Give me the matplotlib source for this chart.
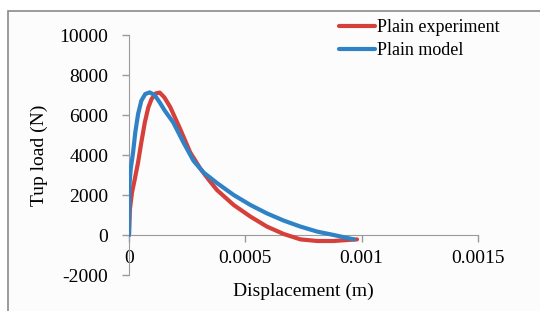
import matplotlib.pyplot as plt
from matplotlib.patches import Rectangle

# data
exp_x = [0, 0.000004, 0.000013, 0.000025, 0.000039, 0.000053, 0.000068, 0.000083,
         0.000097, 0.000115, 0.000132, 0.000152, 0.000177, 0.00022, 0.000263,
         0.000306, 0.00034, 0.000378, 0.00045, 0.000522, 0.000593, 0.000665,
         0.000737, 0.000809, 0.00088, 0.000938, 0.00098]
exp_y = [0, 1300, 2130, 2800, 3630, 4630, 5630, 6380,
         6800, 7080, 7120, 6880, 6400, 5300, 4130,
         3330, 2800, 2250, 1500, 920, 420, 50,
         -220, -300, -300, -250, -220]

mod_x = [0, 0.0000017, 0.0000073, 0.0000175, 0.000027, 0.000039, 0.000053, 0.00007,
         0.000089, 0.00011, 0.000132, 0.000154, 0.00019, 0.000234, 0.000277,
         0.00032, 0.000378, 0.00045, 0.000522, 0.000593, 0.000665, 0.000737,
         0.000809, 0.00088, 0.000967]
mod_y = [0, 2465, 3300, 4130, 5130, 6050, 6715, 7050,
         7130, 7000, 6630, 6215, 5630, 4630, 3715,
         3130, 2600, 2000, 1500, 1080, 720, 420,
         170, 0, -220]

xticks = [0, 0.0005, 0.001, 0.0015]
xticklabels = ["0", "0.0005", "0.001", "0.0015"]
yticks = [-2000, 0, 2000, 4000, 6000, 8000, 10000]

plt.rcParams['font.family'] = ['Liberation Serif', 'DejaVu Serif']
plt.rcParams['axes.unicode_minus'] = False

fig = plt.figure(figsize=(5.4, 3.11), dpi=100)
fig.patch.set_facecolor("white")
# outer chart frame
fig.patches.append(Rectangle((8 / 540, -0.1), 1.2, 1 - 11 / 311 + 0.1,
                             transform=fig.transFigure, facecolor="#fcfcfc",
                             edgecolor="#8a8a8a", linewidth=1.2, zorder=-1))

ax = fig.add_axes([129 / 540, 1 - 275 / 311, (478 - 129) / 540, (275 - 35) / 311])
ax.set_zorder(2)
ax.set_facecolor("none")

ax.plot(exp_x, exp_y, color="#d5403a", lw=3, solid_capstyle="round",
        solid_joinstyle="round", label="Plain experiment", zorder=3)
ax.plot(mod_x, mod_y, color="#2f82c6", lw=3, solid_capstyle="round",
        solid_joinstyle="round", label="Plain model", zorder=4)

ax.set_xlim(0, 0.0015)
ax.set_ylim(-2000, 10000)
ax.set_xticks(xticks)
ax.set_xticklabels(xticklabels)
ax.set_yticks(yticks)

for s in ["top", "right"]:
    ax.spines[s].set_visible(False)
ax.spines["bottom"].set_position(("data", 0))
ax.spines["bottom"].set_color("#9a9a9a")
ax.spines["left"].set_color("#9a9a9a")
ax.tick_params(axis="both", colors="#9a9a9a", length=5, width=1,
               labelcolor="black", labelsize=14)
ax.tick_params(axis="x", pad=6)
ax.tick_params(axis="y", pad=10)

ax.set_ylabel("Tup load (N)", fontsize=14, labelpad=8)
ax.set_xlabel("Displacement (m)", fontsize=14)
ax.xaxis.set_label_coords(0.5, -0.03)

leg = fig.legend(loc="upper left", bbox_to_anchor=(330 / 540, 1 - 10 / 311),
                 frameon=False, fontsize=13, handlelength=2.0, handletextpad=0.1,
                 labelspacing=0.35, borderpad=0)

fig.savefig("out.png", dpi=100)
